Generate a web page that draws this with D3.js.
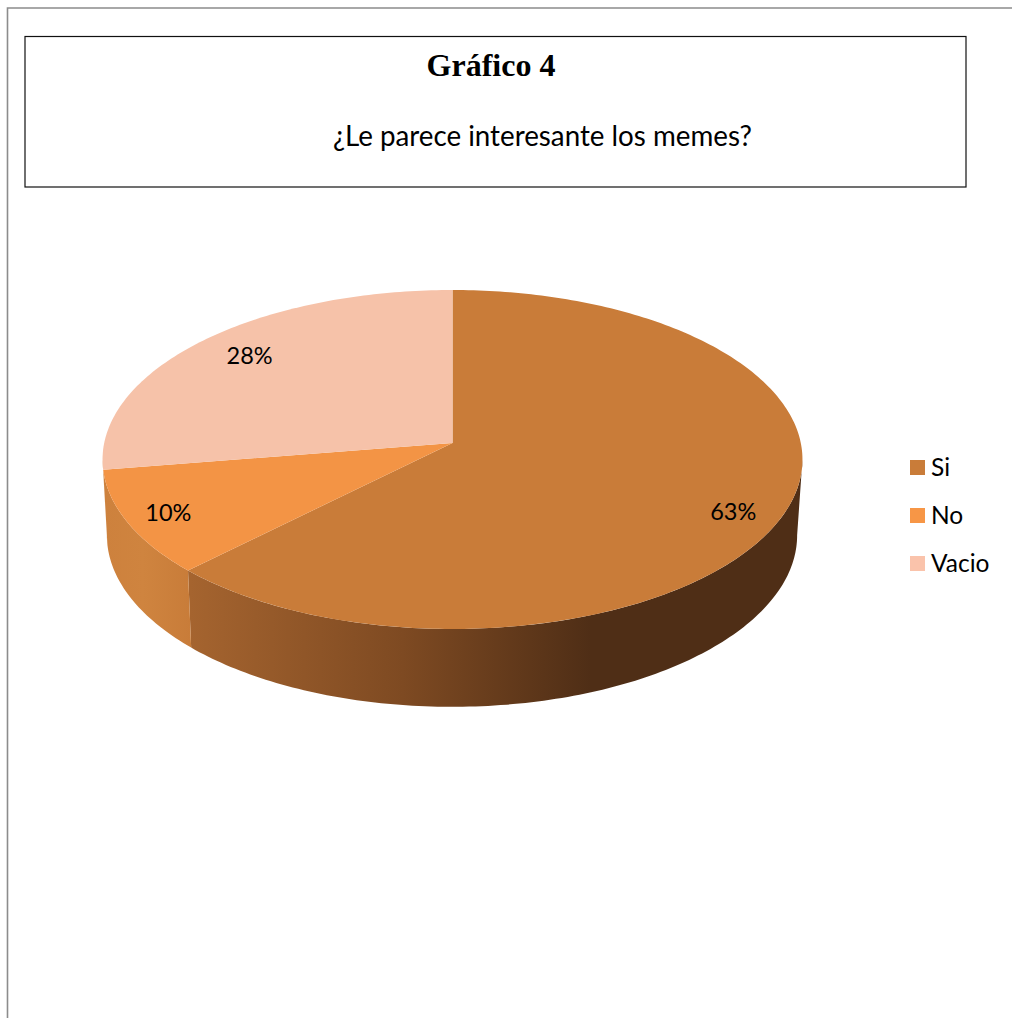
<!DOCTYPE html>
<html>
<head>
<meta charset="utf-8">
<script src="https://cdn.jsdelivr.net/npm/d3@7"></script>
<style>
  html, body { margin: 0; padding: 0; background: #fff; }
  svg { display: block; }
</style>
</head>
<body>
<div class="chart"></div>
<script>
// data
const categories = ["Si", "No", "Vacio"];
const percents = [62.5, 10, 27.5];
const colors = ["#c97c39", "#f39445", "#f6c2a9"];
const legendColors = ["#c97c39", "#f79646", "#fac3ab"];
const chartTitle = "Gráfico 4";
const question = "¿Le parece interesante los memes?";

const svgWidth = 1012;
const svgHeight = 1018;

// pie tilt: the top disc is a perspective view of a circle
const persp = 0.0973;
const top3d = { cx: 452.5, cy: 443, a: 348.3, b: 167.9 };
const bottom3d = { cx: 452, cy: 518.5, a: 343.5, b: 170 };

const svg = d3.select(".chart")
  .append("svg")
  .attr("width", svgWidth)
  .attr("height", svgHeight);

const defs = svg.append("defs");

// rim point of a disc, angle clockwise from the top
function project(disc, angle, r = 1) {
  const u = Math.sin(angle) * r;
  const v = -Math.cos(angle) * r;
  const d = 1 - persp * v;
  return [disc.cx + disc.a * u / d, disc.cy + disc.b * v / d];
}

function rim(disc, a0, a1) {
  const n = Math.max(2, Math.ceil(Math.abs(a1 - a0) * 60));
  return d3.range(n + 1).map(i => project(disc, a0 + (a1 - a0) * i / n));
}

const line = d3.line();
const pie = d3.pie().sort(null);
const slices = pie(percents);
const color = d3.scaleOrdinal().domain(categories).range(colors);

// page frame
svg.append("path")
  .attr("d", "M7.5,1018V8H1012")
  .attr("fill", "none")
  .attr("stroke", "#8c8c8c")
  .attr("stroke-width", 1.6);

// title box
svg.append("rect")
  .attr("x", 25)
  .attr("y", 36.5)
  .attr("width", 941)
  .attr("height", 150.5)
  .attr("fill", "#fff")
  .attr("stroke", "#111")
  .attr("stroke-width", 1.2);

svg.append("text")
  .attr("x", 491)
  .attr("y", 76)
  .attr("text-anchor", "middle")
  .attr("font-family", "'Liberation Serif', serif")
  .attr("font-weight", "bold")
  .attr("font-size", 32)
  .attr("fill", "#000")
  .text(chartTitle);

svg.append("text")
  .attr("x", 333)
  .attr("y", 146)
  .attr("font-family", "Lato, sans-serif")
  .attr("font-size", 28)
  .attr("textLength", 419)
  .attr("lengthAdjust", "spacingAndGlyphs")
  .attr("fill", "#000")
  .text(question);

// side wall shading
const wallStops = [
  [{ o: 0, c: "#a5642f" }, { o: 0.35, c: "#7e4a22" }, { o: 0.66, c: "#4f2e16" }, { o: 1, c: "#4f2e16" }],
  [{ o: 0, c: "#cd813d" }, { o: 0.45, c: "#cf843f" }, { o: 1, c: "#c87c39" }],
  [{ o: 0, c: "#c87c39" }, { o: 1, c: "#c87c39" }]
];
const wallRange = [[190, 797], [104, 191], [100, 108]];

wallStops.forEach((stops, i) => {
  const g = defs.append("linearGradient")
    .attr("id", "wall" + i)
    .attr("gradientUnits", "userSpaceOnUse")
    .attr("x1", wallRange[i][0])
    .attr("x2", wallRange[i][1])
    .attr("y1", 0)
    .attr("y2", 0);
  stops.forEach(s => g.append("stop").attr("offset", s.o).attr("stop-color", s.c));
});

// only the front of the rim is visible
const frontStart = Math.PI - Math.acos(persp);
const frontEnd = Math.PI + Math.acos(persp);

svg.append("g").selectAll("path")
  .data(slices)
  .join("path")
  .attr("d", d => {
    const a0 = Math.max(d.startAngle, frontStart);
    const a1 = Math.min(d.endAngle, frontEnd);
    if (a1 <= a0) return null;
    return line(rim(top3d, a0, a1).concat(rim(bottom3d, a1, a0))) + "Z";
  })
  .attr("fill", (d, i) => `url(#wall${i})`);

// top disc
svg.append("g").selectAll("path")
  .data(slices)
  .join("path")
  .attr("d", d => line([[top3d.cx, top3d.cy]].concat(rim(top3d, d.startAngle, d.endAngle))) + "Z")
  .attr("fill", (d, i) => color(categories[i]));

// data labels
const labelRadius = [0.845, 0.88, 0.805];
const labelShift = [13, 0, -4];

svg.append("g").selectAll("text")
  .data(slices)
  .join("text")
  .attr("x", (d, i) => project(top3d, (d.startAngle + d.endAngle) / 2, labelRadius[i])[0])
  .attr("y", (d, i) => project(top3d, (d.startAngle + d.endAngle) / 2, labelRadius[i])[1] + labelShift[i])
  .attr("dy", "0.35em")
  .attr("text-anchor", "middle")
  .attr("font-family", "Lato, sans-serif")
  .attr("font-size", 23.5)
  .attr("fill", "#000")
  .text(d => Math.round(d.value) + "%");

// legend
const legendY = d3.scalePoint().domain(categories).range([467.5, 563.5]);

const legend = svg.append("g").selectAll("g")
  .data(categories)
  .join("g")
  .attr("transform", d => `translate(910,${legendY(d)})`);

legend.append("rect")
  .attr("y", -7.5)
  .attr("width", 15)
  .attr("height", 15)
  .attr("fill", (d, i) => legendColors[i]);

legend.append("text")
  .attr("x", 21)
  .attr("y", -0.5)
  .attr("dy", "0.35em")
  .attr("font-family", "Lato, sans-serif")
  .attr("font-size", 24.5)
  .attr("fill", "#000")
  .text(d => d);
</script>
</body>
</html>
